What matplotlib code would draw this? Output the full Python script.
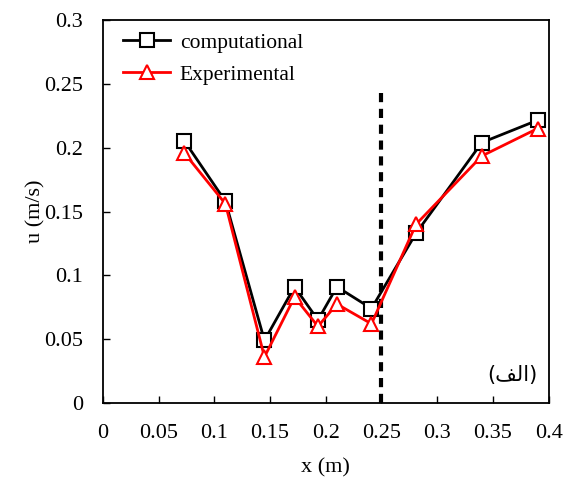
import numpy as np
import matplotlib.pyplot as plt

x_comp = [0.073, 0.11, 0.145, 0.172, 0.193, 0.21, 0.241, 0.281, 0.34, 0.39]
u_comp = [0.2055, 0.158, 0.049, 0.091, 0.065, 0.091, 0.074, 0.133, 0.204, 0.2215]
x_exp = [0.073, 0.11, 0.145, 0.172, 0.193, 0.21, 0.241, 0.281, 0.34, 0.39]
u_exp = [0.196, 0.156, 0.036, 0.083, 0.060, 0.0775, 0.062, 0.140, 0.1935, 0.215]
x_ticks = [0, 0.05, 0.1, 0.15, 0.2, 0.25, 0.3, 0.35, 0.4]
y_ticks = [0, 0.05, 0.1, 0.15, 0.2, 0.25, 0.3]
x_tick_labels = ['0', '0.05', '0.1', '0.15', '0.2', '0.25', '0.3', '0.35', '0.4']
y_tick_labels = ['0', '0.05', '0.1', '0.15', '0.2', '0.25', '0.3']
split_x = 0.25
split_top = 0.247

plt.rcParams['font.family'] = ['Liberation Serif', 'DejaVu Sans']

fig = plt.figure(figsize=(5.71, 4.79), dpi=100)
ax = fig.add_axes([0.180, 0.1587, 0.781, 0.7995])

ax.plot(x_comp, u_comp, color='black', lw=2, marker='s', ms=10,
        mfc='white', mec='black', mew=1.5, label='computational', zorder=3)
ax.plot(x_exp, u_exp, color='red', lw=2, marker='^', ms=10,
        mfc='white', mec='red', mew=1.5, label='Experimental', zorder=4)
ax.plot([split_x, split_x], [0, split_top], color='black', lw=3,
        ls=(0, (2.2, 1.6)), zorder=2)

ax.set_xlim(0, 0.4)
ax.set_ylim(0, 0.3)
ax.set_xticks(x_ticks)
ax.set_xticklabels(x_tick_labels)
ax.set_yticks(y_ticks)
ax.set_yticklabels(y_tick_labels)
ax.tick_params(direction='in', length=5, width=1, labelsize=16)
ax.tick_params(axis='x', pad=15)
ax.tick_params(axis='y', pad=14)
ax.set_xlabel('x (m)', fontsize=16, labelpad=11)
ax.set_ylabel('u (m/s)', fontsize=16, labelpad=-1)
for s in ax.spines.values():
    s.set_linewidth(1.3)

ax.legend(loc='upper left', frameon=False, fontsize=15.5, handlelength=2.2,
          borderaxespad=0, borderpad=0, labelspacing=0.55, handletextpad=0.45,
          bbox_to_anchor=(0.045, 0.967))

# "(الف)" in shaped presentation forms, visual order
ax.text(0.975, 0.074, '(\ufed2\ufedf\ufe8d)', transform=ax.transAxes,
        ha='right', va='center', fontsize=15, family=['DejaVu Sans'])

fig.savefig('out.png', dpi=100)
